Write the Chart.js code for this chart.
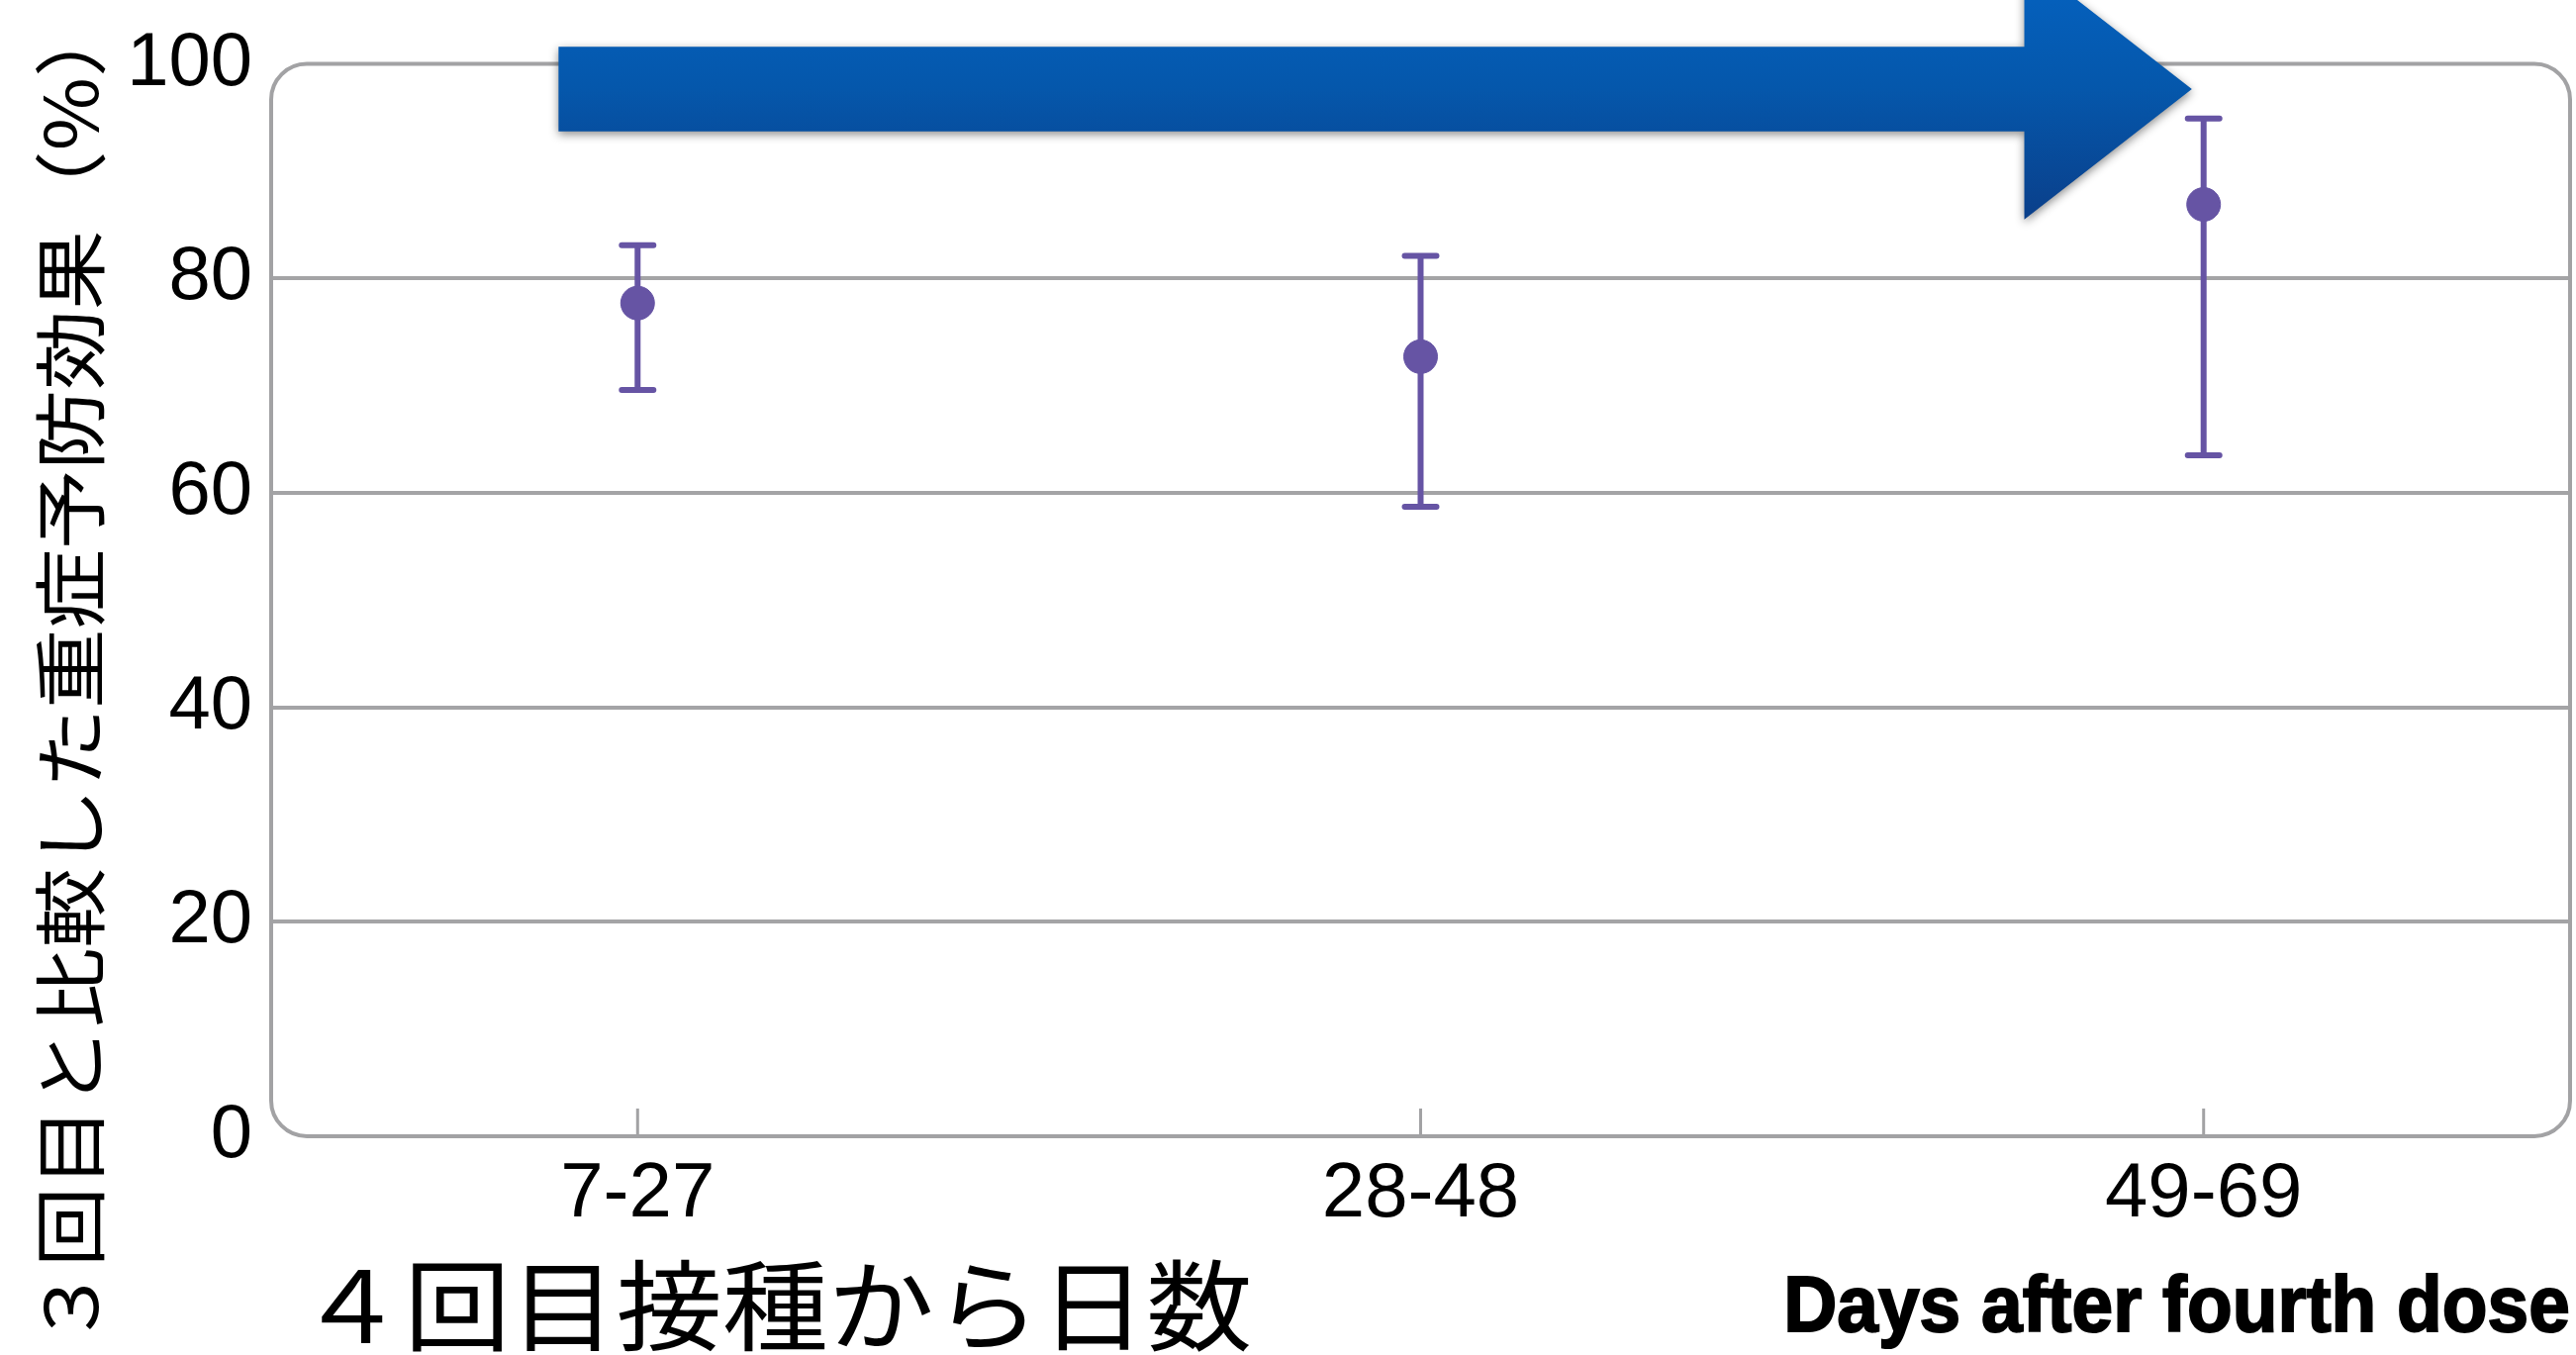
<!DOCTYPE html>
<html>
<head>
<meta charset="utf-8">
<script src="https://cdn.jsdelivr.net/npm/chart.js@4/dist/chart.umd.min.js"></script>
<style>
  html, body { margin: 0; padding: 0; background: #ffffff; }
  canvas { display: block; }
</style>
</head>
<body>
<canvas id="chart" width="2603" height="1369"></canvas>
<script>
// Protection against severe illness vs. third dose, by days since the fourth dose
const categories = ['7-27', '28-48', '49-69'];
const effect   = [77.7, 72.7, 86.9];
const ciLower  = [69.6, 58.7, 63.5];
const ciUpper  = [83.1, 82.1, 94.9];
const yTicks   = [0, 20, 40, 60, 80, 100];

const yTitle   = '３回目と比較した重症予防効果（%）';
const xTitleJa = '４回目接種から日数';
const xTitleEn = 'Days after fourth dose';

// Styling
const PURPLE = '#6654a4';
const FRAME  = '#a2a2a4';
const GRID   = '#a4a4a6';

// Big arrow, expressed in axis units (x: category index, y: percent)
const ARROW = { tail: -0.101, neck: 1.771, tip: 1.985,
                shaftTop: 101.6, shaftBottom: 93.7,
                headTop: 109.8, headBottom: 85.5 };

Chart.defaults.font.family = "'Liberation Sans', Arial, sans-serif";
Chart.defaults.color = '#000';

// Draws text with its ink box stretched to a given extent
function fitText(ctx, text, font, inkLength, stretchY) {
  ctx.font = font;
  const m = ctx.measureText(text);
  const inkW = m.actualBoundingBoxLeft + m.actualBoundingBoxRight;
  ctx.scale(inkLength / inkW, stretchY);
  ctx.fillText(text, m.actualBoundingBoxLeft, 0);
  return m;
}

const framePlugin = {
  id: 'frame',
  beforeDatasetsDraw(chart) {
    const { ctx, chartArea: a, scales: { x } } = chart;
    ctx.save();
    // rounded plot frame
    ctx.strokeStyle = FRAME;
    ctx.lineWidth = 4;
    ctx.beginPath();
    ctx.roundRect(a.left, a.top, a.right - a.left, a.bottom - a.top, 36);
    ctx.stroke();
    // inward category tick marks
    ctx.lineWidth = 3;
    categories.forEach((c, i) => {
      const px = x.getPixelForValue(i);
      ctx.beginPath();
      ctx.moveTo(px, a.bottom);
      ctx.lineTo(px, a.bottom - 28);
      ctx.stroke();
    });
    ctx.restore();
  }
};

const errorBarPlugin = {
  id: 'errorBars',
  beforeDatasetsDraw(chart) {
    const { ctx, scales: { x, y } } = chart;
    ctx.save();
    ctx.strokeStyle = PURPLE;
    ctx.lineWidth = 6;
    ctx.lineCap = 'round';
    categories.forEach((c, i) => {
      const px = x.getPixelForValue(i);
      const lo = y.getPixelForValue(ciLower[i]);
      const hi = y.getPixelForValue(ciUpper[i]);
      ctx.beginPath();
      ctx.moveTo(px, lo); ctx.lineTo(px, hi);
      ctx.moveTo(px - 16, lo); ctx.lineTo(px + 16, lo);
      ctx.moveTo(px - 16, hi); ctx.lineTo(px + 16, hi);
      ctx.stroke();
    });
    ctx.restore();
  }
};

const decorPlugin = {
  id: 'decor',
  afterDatasetsDraw(chart) {
    const { ctx, scales: { x, y } } = chart;
    ctx.save();

    // arrow
    const xt = x.getPixelForValue(ARROW.tail);
    const xn = x.getPixelForValue(ARROW.neck);
    const xp = x.getPixelForValue(ARROW.tip);
    const st = y.getPixelForValue(ARROW.shaftTop);
    const sb = y.getPixelForValue(ARROW.shaftBottom);
    const ht = y.getPixelForValue(ARROW.headTop);
    const hb = y.getPixelForValue(ARROW.headBottom);
    const mid = (st + sb) / 2;
    const g = ctx.createLinearGradient(0, ht, 0, hb);
    g.addColorStop(0, '#0563c2');
    g.addColorStop(0.5, '#0557ab');
    g.addColorStop(1, '#0a3f8a');
    ctx.fillStyle = g;
    ctx.shadowColor = 'rgba(0,0,0,0.45)';
    ctx.shadowBlur = 10;
    ctx.shadowOffsetY = 3;
    ctx.beginPath();
    ctx.moveTo(xt, st);
    ctx.lineTo(xn, st);
    ctx.lineTo(xn, ht);
    ctx.lineTo(xp, mid);
    ctx.lineTo(xn, hb);
    ctx.lineTo(xn, sb);
    ctx.lineTo(xt, sb);
    ctx.closePath();
    ctx.fill();
    ctx.restore();

    // vertical title, reading bottom to top
    ctx.save();
    ctx.fillStyle = '#000';
    ctx.textAlign = 'left';
    ctx.textBaseline = 'alphabetic';
    ctx.translate(99, 1343);
    ctx.rotate(-Math.PI / 2);
    fitText(ctx, yTitle, "400 74px 'Noto Sans CJK JP'", 1290, 1);
    ctx.restore();

    // Japanese x title
    ctx.save();
    ctx.fillStyle = '#000';
    ctx.textAlign = 'left';
    ctx.textBaseline = 'alphabetic';
    ctx.font = "400 100px 'Noto Sans CJK JP'";
    const mj = ctx.measureText(xTitleJa);
    ctx.translate(325, 1272 + mj.actualBoundingBoxAscent);
    fitText(ctx, xTitleJa, "400 100px 'Noto Sans CJK JP'", 937, 1);
    ctx.restore();

    // English x title
    ctx.save();
    ctx.fillStyle = '#000';
    ctx.strokeStyle = '#000';
    ctx.lineWidth = 2;
    ctx.textAlign = 'left';
    ctx.textBaseline = 'alphabetic';
    ctx.translate(1807, 1345);
    const me = fitText(ctx, xTitleEn, "bold 79px 'Liberation Sans', Arial, sans-serif", 788, 1);
    ctx.strokeText(xTitleEn, me.actualBoundingBoxLeft, 0);
    ctx.restore();
  }
};

new Chart(document.getElementById('chart'), {
  type: 'scatter',
  data: {
    datasets: [{
      data: categories.map((c, i) => ({ x: i, y: effect[i] })),
      backgroundColor: PURPLE,
      borderColor: PURPLE,
      pointRadius: 17,
      pointHoverRadius: 17
    }]
  },
  options: {
    responsive: false,
    animation: false,
    events: [],
    layout: { autoPadding: false, padding: { top: 59, right: 6, left: 0, bottom: 0 } },
    plugins: { legend: { display: false }, tooltip: { enabled: false } },
    scales: {
      x: {
        type: 'linear',
        min: -0.468,
        max: 2.468,
        afterBuildTicks(s) { s.ticks = categories.map((c, i) => ({ value: i })); },
        afterFit(s) { s.height = 221; },
        grid: { display: false, drawTicks: false },
        border: { display: false },
        ticks: {
          padding: 13,
          font: { size: 78 },
          color: '#000',
          callback: (v) => categories[v]
        }
      },
      y: {
        min: 0,
        max: 100,
        afterBuildTicks(s) { s.ticks = yTicks.map(v => ({ value: v })); },
        afterFit(s) { s.width = 274; },
        grid: {
          drawTicks: false,
          lineWidth: 4,
          color: (c) => (c.tick && (c.tick.value === 0 || c.tick.value === 100)) ? 'rgba(0,0,0,0)' : GRID
        },
        border: { display: false },
        ticks: {
          padding: 19,
          font: { size: 76 },
          color: '#000'
        }
      }
    }
  },
  plugins: [framePlugin, errorBarPlugin, decorPlugin]
});
</script>
</body>
</html>
